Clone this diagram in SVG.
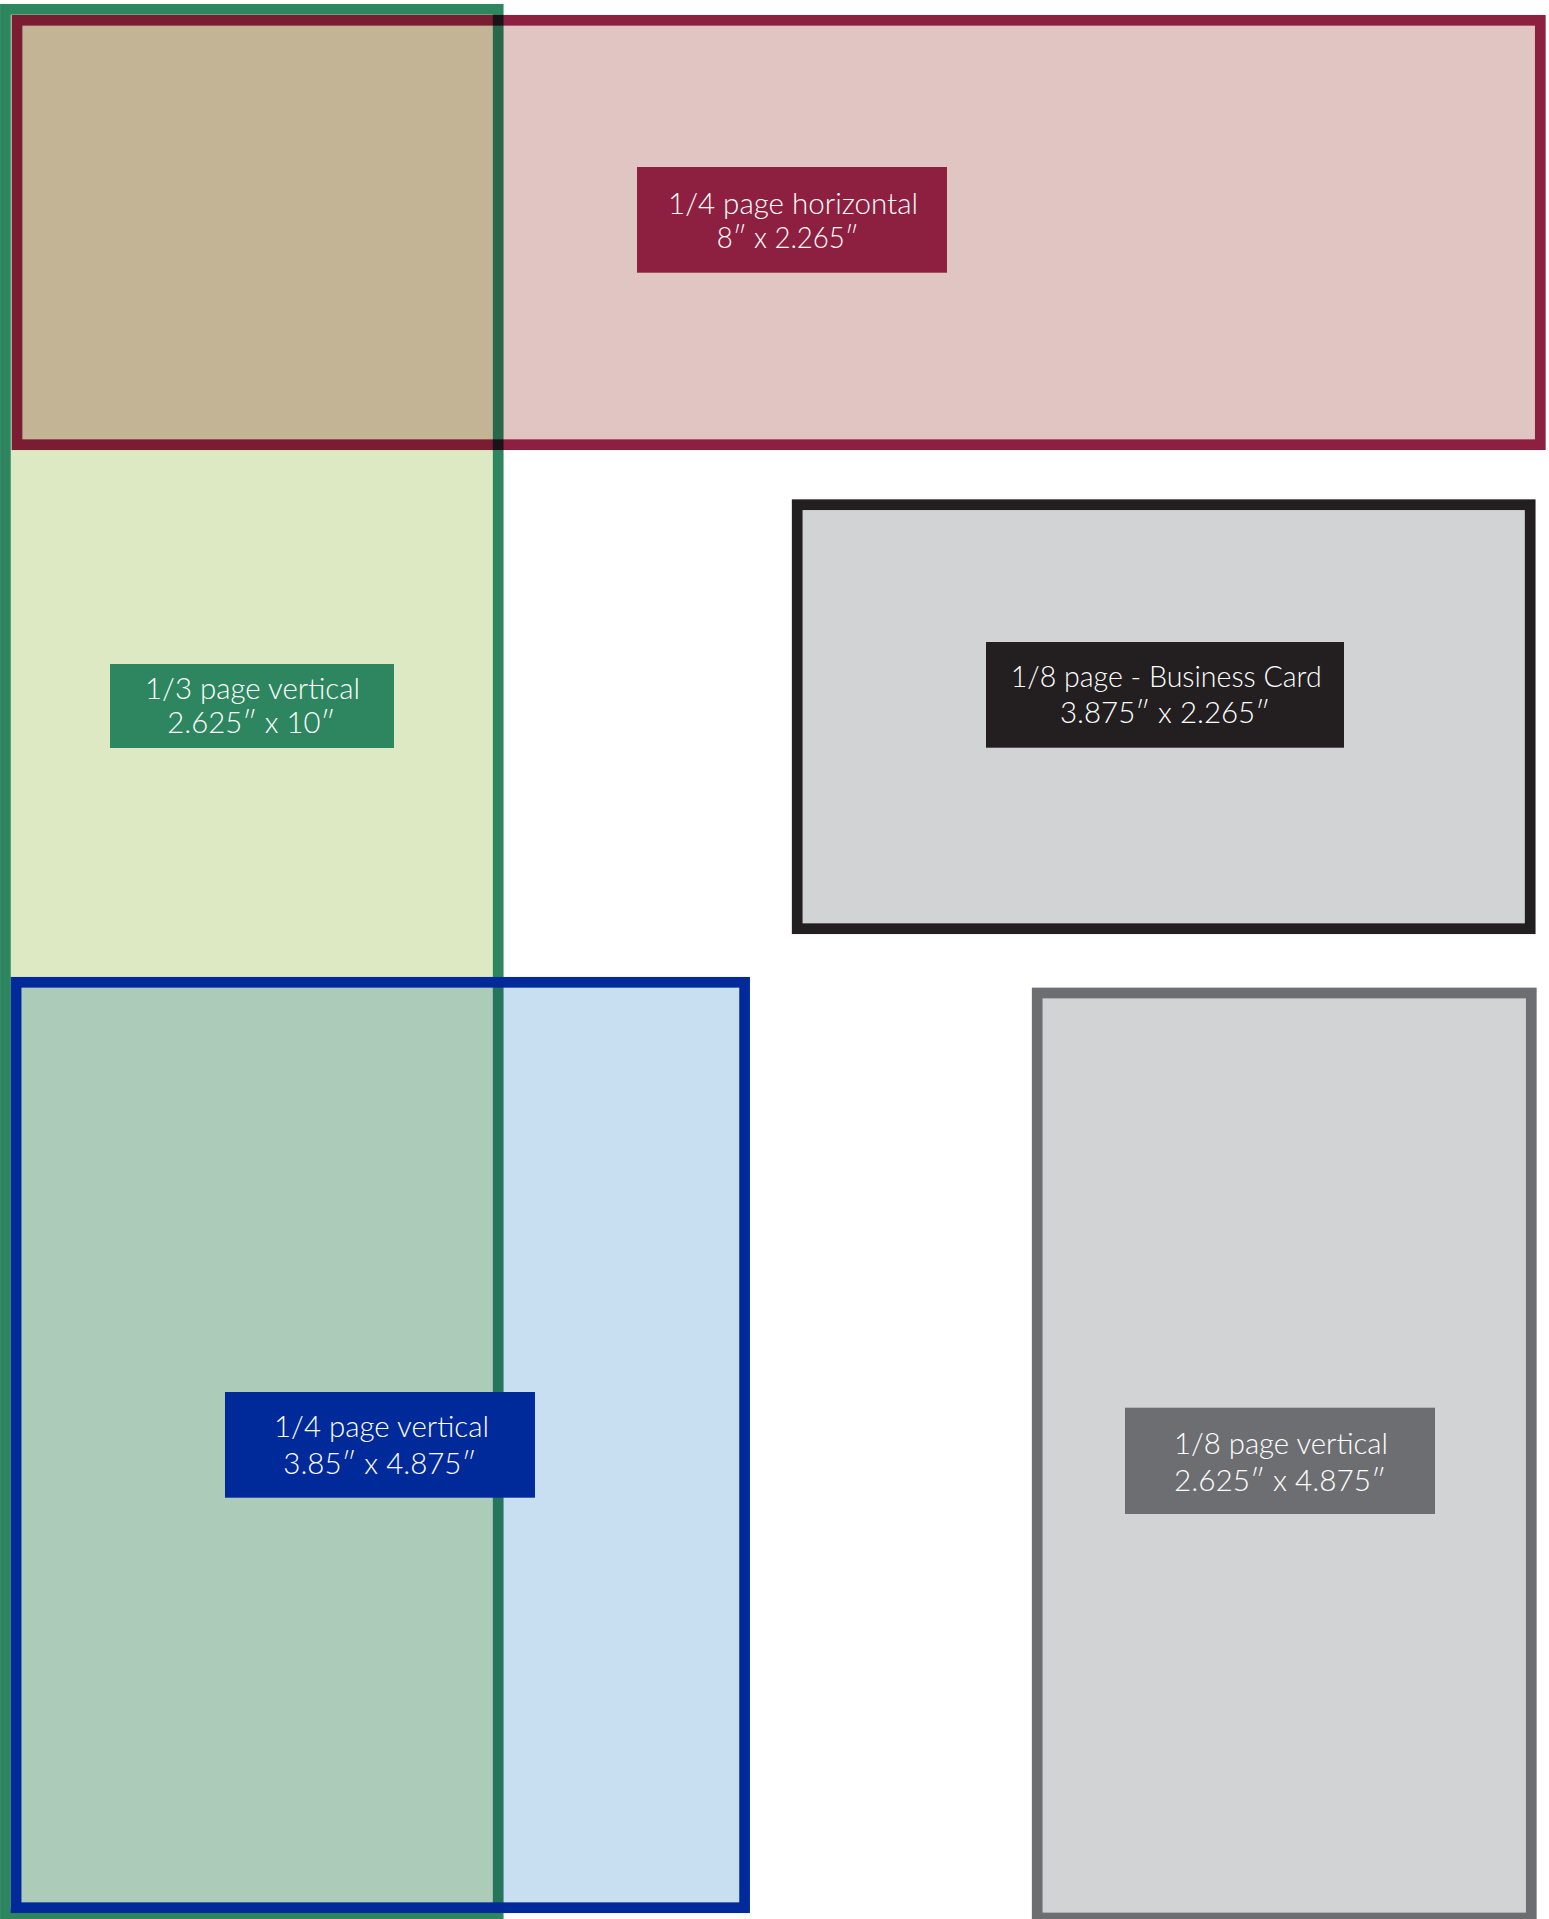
<svg xmlns="http://www.w3.org/2000/svg" width="1549" height="1919" viewBox="0 0 1549 1919">
<style>
.mul{mix-blend-mode:multiply}
.lbl{font-family:"Lato","DejaVu Sans",sans-serif;font-size:28.5px;font-weight:300;fill:#ffffff}
</style>
<rect x="0" y="0" width="1549" height="1919" fill="#ffffff"/>
<g id="quarter-horizontal">
<rect class="mul" x="17" y="20.3" width="1523.3" height="424.4" fill="#e1c5c3" stroke="#8d1f41" stroke-width="10.7"/>
<rect x="637" y="167" width="310" height="105.7" fill="#8d1f41"/>
<text class="lbl" x="668" y="213.5" textLength="250" lengthAdjust="spacingAndGlyphs">1/4 page horizontal</text>
<text class="lbl" x="716.7" y="247.7" textLength="142" lengthAdjust="spacingAndGlyphs">8″ x 2.265″</text>
</g>
<g id="third-vertical">
<rect class="mul" x="5.4" y="9.3" width="492.8" height="1904.7" fill="#dce9c3" stroke="#2e8660" stroke-width="10.7"/>
<rect x="110" y="664" width="284" height="84" fill="#2e8660"/>
<text class="lbl" x="145" y="699.3" textLength="215" lengthAdjust="spacingAndGlyphs">1/3 page vertical</text>
<text class="lbl" x="167.3" y="733.3" textLength="168" lengthAdjust="spacingAndGlyphs">2.625″ x 10″</text>
</g>
<g id="quarter-vertical">
<rect class="mul" x="16.1" y="982.3" width="728.5" height="925.4" fill="#c8dff2"/>
<rect x="16.1" y="982.3" width="728.5" height="925.4" fill="none" stroke="#002a9a" stroke-width="10.7"/>
<rect x="225" y="1392" width="310" height="105.7" fill="#002a9a"/>
<text class="lbl" x="274" y="1437.3" textLength="215" lengthAdjust="spacingAndGlyphs">1/4 page vertical</text>
<text class="lbl" x="283.3" y="1474" textLength="193" lengthAdjust="spacingAndGlyphs">3.85″ x 4.875″</text>
</g>
<g id="eighth-business-card">
<rect x="797.2" y="504.7" width="733" height="424" fill="#d1d3d4" stroke="#231f20" stroke-width="10.7"/>
<rect x="986" y="642" width="358" height="105.7" fill="#231f20"/>
<text class="lbl" x="1010.7" y="687.3" textLength="311" lengthAdjust="spacingAndGlyphs">1/8 page - Business Card</text>
<text class="lbl" x="1060" y="723.3" textLength="210" lengthAdjust="spacingAndGlyphs">3.875″ x 2.265″</text>
</g>
<g id="eighth-vertical">
<rect x="1037.2" y="993" width="494.1" height="925" fill="#d1d3d4" stroke="#6d6e71" stroke-width="10.7"/>
<rect x="1125" y="1407.7" width="310" height="106.3" fill="#6d6e71"/>
<text class="lbl" x="1174" y="1454.3" textLength="214" lengthAdjust="spacingAndGlyphs">1/8 page vertical</text>
<text class="lbl" x="1174" y="1491" textLength="212" lengthAdjust="spacingAndGlyphs">2.625″ x 4.875″</text>
</g>
<g id="connectors"/>
</svg>
